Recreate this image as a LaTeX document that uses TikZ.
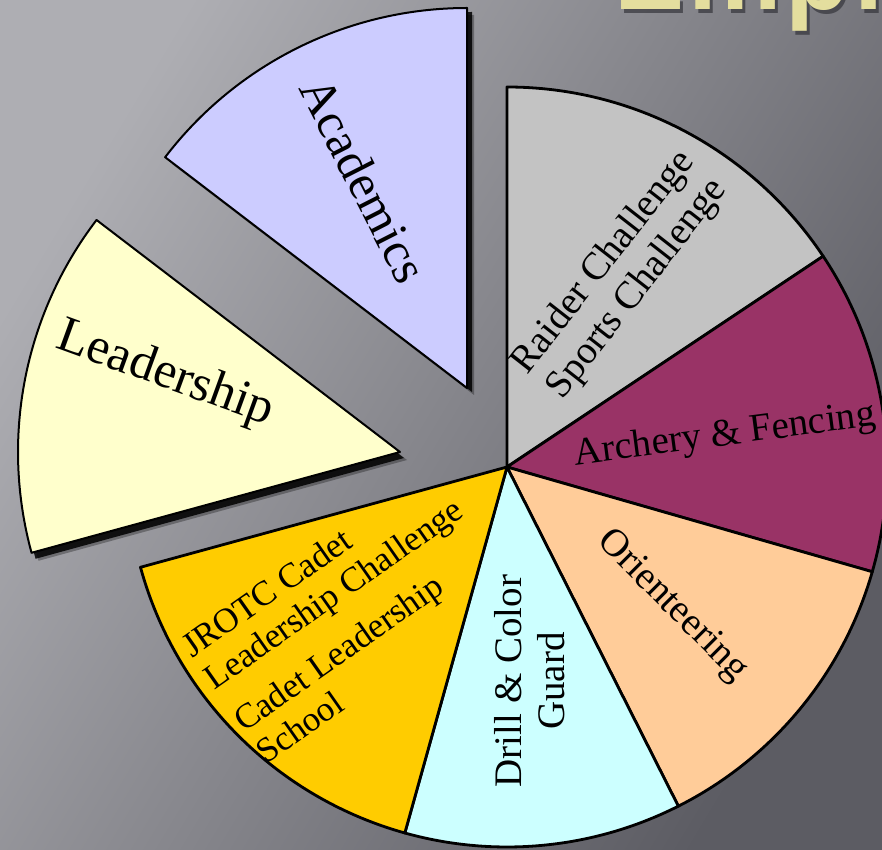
\documentclass[tikz,border=0pt]{standalone}
\usepackage{fontspec}
\newfontfamily\titlefont[LetterSpace=4]{Liberation Sans}
\newfontfamily\palfont{Liberation Serif}
\definecolor{raider}{HTML}{C3C3C3}
\definecolor{archery}{HTML}{993366}
\definecolor{orient}{HTML}{FFCC99}
\definecolor{drill}{HTML}{CCFFFF}
\definecolor{jrotc}{HTML}{FFCC00}
\definecolor{acad}{HTML}{CCCCFF}
\definecolor{lead}{HTML}{FFFFCC}
\definecolor{bgl}{HTML}{AEAEB3}
\definecolor{bgd}{HTML}{5C5C63}
\definecolor{ttlcol}{HTML}{E4DE9E}
\definecolor{ttlshadow}{HTML}{35353B}
\begin{document}
\begin{tikzpicture}[x=1pt,y=1pt,
  slice/.style={draw=black, line width=2.8pt, line join=round},
  exslice/.style={draw=black, line width=2pt, line join=round},
  exshadow/.style={fill=black, opacity=0.85},
  exshadowsoft/.style={fill=black, opacity=0.3},
  lbl/.style={font=\palfont\fontsize{39}{43}\selectfont, align=center, inner sep=0pt},
  smalllbl/.style={font=\palfont\fontsize{35}{39}\selectfont, align=left, inner sep=0pt},
  ttl/.style={font=\titlefont\bfseries\fontsize{105}{105}\selectfont, anchor=base west, inner sep=0pt}]
\useasboundingbox (0,0) rectangle (882,849);
\clip (0,0) rectangle (882,849);
\shade[top color=bgl, bottom color=bgd, shading angle=59] (0,0) rectangle (882,849);
% title (cut off at the top)
\node[ttl, text=ttlshadow, opacity=0.7] (ttlsh) at (617,835) {Emphasis};
\node[ttl, text=ttlcol] (ttl) at (614,839) {Emphasis};
% centres
\coordinate (C) at (507,382);
\coordinate (A) at (467,461);
\coordinate (L) at (400,397);
% main pie
\filldraw[slice, fill=raider]  (C) -- ++(33.7:380pt) arc[start angle=33.7, end angle=90, radius=380pt] -- cycle;
\filldraw[slice, fill=archery] (C) -- ++(-16:380pt) arc[start angle=-16, end angle=33.7, radius=380pt] -- cycle;
\filldraw[slice, fill=orient]  (C) -- ++(-63.2:380pt) arc[start angle=-63.2, end angle=-16, radius=380pt] -- cycle;
\filldraw[slice, fill=drill]   (C) -- ++(-105.6:380pt) arc[start angle=-105.6, end angle=-63.2, radius=380pt] -- cycle;
\filldraw[slice, fill=jrotc]   (C) -- ++(195.3:380pt) arc[start angle=195.3, end angle=254.4, radius=380pt] -- cycle;
% exploded slices with shadows
\fill[exshadowsoft] ([shift={(7,-7)}]A) -- ++(90:380pt) arc[start angle=90, end angle=142.6, radius=380pt] -- cycle;
\fill[exshadow] ([shift={(5,-4)}]A) -- ++(90:380pt) arc[start angle=90, end angle=142.6, radius=380pt] -- cycle;
\filldraw[exslice, fill=acad] (A) -- ++(90:380pt) arc[start angle=90, end angle=142.6, radius=380pt] -- cycle;
\fill[exshadowsoft] ([shift={(7,-8)}]L) -- ++(142.6:382pt) arc[start angle=142.6, end angle=195.3, radius=382pt] -- cycle;
\fill[exshadow] ([shift={(4,-6)}]L) -- ++(142.6:382pt) arc[start angle=142.6, end angle=195.3, radius=382pt] -- cycle;
\filldraw[exslice, fill=lead] (L) -- ++(142.6:382pt) arc[start angle=142.6, end angle=195.3, radius=382pt] -- cycle;
% labels
\node[lbl, rotate=52] (traider) at (621,573) {Raider Challenge\\Sports Challenge};
\node[lbl, rotate=7.5] (tarch) at (725,413) {Archery \& Fencing};
\node[lbl, rotate=-45] (torient) at (672,243) {Orienteering};
\node[lbl, rotate=90] (tdrill) at (530,168) {Drill \& Color\\Guard};
\node[smalllbl, rotate=35] (tjrotc) at (348,235) {JROTC Cadet\\Leadership Challenge\\[12pt]Cadet Leadership\\School};
\node[lbl, font=\palfont\fontsize{50}{56}\selectfont, rotate=-63] (tacad) at (364,669) {Academics};
\node[lbl, font=\palfont\fontsize{51}{56}\selectfont, rotate=-20] (tlead) at (165,474) {Leadership};
\end{tikzpicture}
\end{document}
